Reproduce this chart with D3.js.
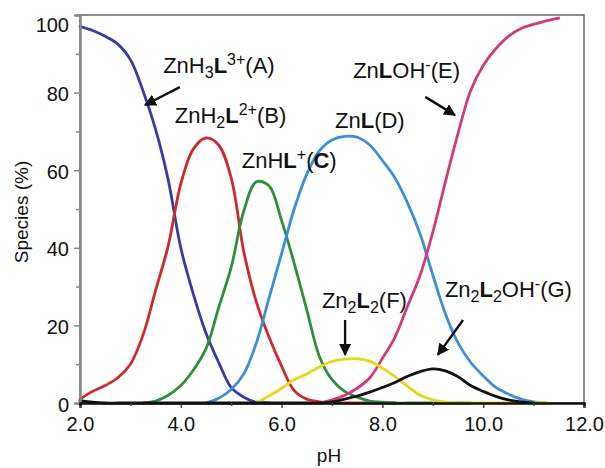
<!DOCTYPE html>
<html>
<head>
<meta charset="utf-8">
<script src="https://cdn.jsdelivr.net/npm/d3@7"></script>
<style>
  body { margin: 0; background: #fff; }
  text { font-family: "Liberation Sans", Arial, Helvetica, sans-serif; fill: #111; }
</style>
</head>
<body>
<svg width="605" height="468"></svg>
<script>
// pH grid the curves were read on
const PH = [2.0, 2.25, 2.5, 2.75, 3.0, 3.25, 3.5, 3.75, 4.0, 4.25,
            4.5, 4.75, 5.0, 5.25, 5.5, 5.75, 6.0, 6.25, 6.5, 6.75,
            7.0, 7.25, 7.5, 7.75, 8.0, 8.25, 8.5, 8.75, 9.0, 9.25,
            9.5, 9.75, 10.0, 10.25, 10.5, 10.75, 11.0, 11.25, 11.5, 11.75, 12.0];

const _ = null;
// species (%) per pH, null = not drawn
const ZNH3L = [97, 96, 94.5, 92.5, 88.5, 80.5, 70.5, 57.5, 40, 28,
               18, 10.5, 4, 1.5, 0.2, 0, _, _, _, _,
               _, _, _, _, _, _, _, _, _, _,
               _, _, _, _, _, _, _, _, _, _, _];
const ZNH2L = [1, 3, 4.5, 6.5, 10, 17.5, 29, 40.5, 56.5, 65.5,
               68.3, 66.5, 58, 39, 26, 17, 9.5, 3.2, 1, 0.3,
               0, 0, 0, 0, 0, 0, _, _, _, _,
               _, _, _, _, _, _, _, _, _, _, _];
const ZNHL  = [_, _, _, _, _, 0, 0.5, 2, 4.5, 8.5,
               14, 24.5, 35, 49.5, 57, 56, 47, 36, 24, 12,
               6, 3, 1.5, 0.5, 0.2, 0, 0, 0, 0, 0,
               0, 0, _, _, _, _, _, _, _, _, _];
const ZNL   = [_, _, _, _, _, _, _, _, _, _,
               0, 1.2, 3.5, 7.5, 15.5, 27, 38.5, 50, 59, 65,
               67.8, 68.7, 68.5, 66.5, 62.5, 58, 51.5, 43.5, 33, 23,
               15.5, 10.5, 7, 4, 2.3, 1, 0.3, 0, _, _, _];
const ZNLOH = [_, _, _, _, _, _, _, _, _, _,
               _, _, _, _, _, _, _, _, _, 0,
               0.8, 2, 3.8, 6.5, 11.5, 17, 25, 33, 44, 57,
               69.5, 80.5, 87, 91.3, 94.5, 96.5, 97.6, 98.5, 99.2, _, _];
const ZN2L2 = [_, _, _, _, _, _, _, _, _, _,
               _, _, _, _, 0, 1.8, 3.8, 6, 7.5, 9.3,
               10.7, 11.3, 11.4, 10.8, 9, 6.8, 4.3, 2, 0.8, 0.2,
               0, 0, 0, 0, 0, 0, 0, 0, _, _, _];
const ZN2L2OH = [0.6, 0.2, 0, 0, 0, 0, 0, 0, 0, 0,
                 0, 0, 0, 0, 0, 0, 0, 0, 0, 0,
                 0.3, 1, 1.8, 2.8, 4, 5.3, 6.9, 8.1, 8.8, 8.3,
                 6.8, 4.5, 3, 1.7, 0.8, 0.3, 0, _, _, _, _];

const SERIES = [
  { values: ZNH3L,   color: '#3a3aa6' },
  { values: ZNH2L,   color: '#cc2a2e' },
  { values: ZNHL,    color: '#2f8f3a' },
  { values: ZNL,     color: '#3c8fd6' },
  { values: ZNLOH,   color: '#d23a78' },
  { values: ZN2L2,   color: '#e6d81e' },
  { values: ZN2L2OH, color: '#111111' },
];

const X_TICKS = [2, 4, 6, 8, 10, 12];
const X_MINOR = [3, 5, 7, 9, 11];
const Y_TICKS = [0, 20, 40, 60, 80, 100];
const Y_MINOR = [10, 30, 50, 70, 90];

// label text: [text, kind]  kind: n normal, b bold, sub, sup
const LABELS = [
  { at: [3.65, 85.0], parts: [['ZnH', 'n'], ['3', 'sub'], ['L', 'b'], ['3+', 'sup'], ['(A)', 'n']] },
  { at: [3.88, 72.2], parts: [['ZnH', 'n'], ['2', 'sub'], ['L', 'b'], ['2+', 'sup'], ['(B)', 'n']] },
  { at: [5.21, 60.6], parts: [['ZnH', 'n'], ['L', 'b'], ['+', 'sup'], ['(', 'n'], ['C', 'b'], [')', 'n']] },
  { at: [7.06, 70.9], parts: [['Zn', 'n'], ['L', 'b'], ['(D)', 'n']] },
  { at: [7.42, 83.8], parts: [['Zn', 'n'], ['L', 'b'], ['OH', 'n'], ['-', 'sup'], ['(E)', 'n']] },
  { at: [6.80, 24.5], parts: [['Zn', 'n'], ['2', 'sub'], ['L', 'b'], ['2', 'sub'], ['(F)', 'n']] },
  { at: [9.24, 27.3], parts: [['Zn', 'n'], ['2', 'sub'], ['L', 'b'], ['2', 'sub'], ['OH', 'n'], ['-', 'sup'], ['(G)', 'n']] },
];

// arrows: tail -> head, in data units
const ARROWS = [
  [[3.98, 81.4], [3.29, 76.8]],
  [[8.85, 78.9], [9.44, 74.2]],
  [[7.26, 21.4], [7.26, 12.4]],
  [[9.60, 21.4], [9.10, 12.4]],
];

const svg = d3.select('svg');
const plotLeft = 80, plotRight = 584, plotTop = 15, plotBottom = 403;

const x = d3.scaleLinear().domain([2, 12]).range([plotLeft, plotRight]);
const y = d3.scaleLinear().domain([0, 100]).range([plotBottom, plotTop]);

// frame
svg.append('rect')
  .attr('x', plotLeft).attr('y', plotTop)
  .attr('width', plotRight - plotLeft).attr('height', plotBottom - plotTop)
  .attr('fill', 'none').attr('stroke', '#666').attr('stroke-width', 1.5);

// curves
const line = d3.line()
  .defined(d => d[1] != null)
  .x(d => x(d[0]))
  .y(d => y(d[1]))
  .curve(d3.curveCatmullRom.alpha(0.5));

svg.append('g').selectAll('path')
  .data(SERIES)
  .enter()
  .append('path')
  .attr('d', s => line(PH.map((p, i) => [p, s.values[i]])))
  .attr('fill', 'none')
  .attr('stroke', s => s.color)
  .attr('stroke-width', 2.8)
  .attr('stroke-linejoin', 'round')
  .attr('stroke-linecap', 'round');

// y axis
const yAxis = svg.append('g')
  .attr('transform', `translate(${plotLeft},0)`)
  .call(d3.axisLeft(y).tickValues(Y_TICKS).tickSize(6).tickPadding(5));
yAxis.append('g')
  .call(d3.axisLeft(y).tickValues(Y_MINOR).tickSize(4).tickFormat(''));
yAxis.selectAll('.domain').attr('stroke', '#888').attr('stroke-width', 2);
yAxis.selectAll('line').attr('stroke', '#888').attr('stroke-width', 1.5);
yAxis.selectAll('text')
  .attr('font-size', 20)
  .attr('fill', '#111')
  .attr('dy', d => d === 100 ? '0.8em' : '0.4em');

// x axis
const xAxis = svg.append('g')
  .attr('transform', `translate(0,${plotBottom})`)
  .call(d3.axisBottom(x).tickValues(X_TICKS).tickSize(5).tickPadding(9).tickFormat(d3.format('.1f')));
xAxis.append('g')
  .call(d3.axisBottom(x).tickValues(X_MINOR).tickSize(3).tickFormat(''));
xAxis.selectAll('.domain').attr('stroke', '#111').attr('stroke-width', 2.2);
xAxis.selectAll('line').attr('stroke', '#444').attr('stroke-width', 1.5);
xAxis.selectAll('text').attr('font-size', 20).attr('fill', '#111');

// axis titles
svg.append('text')
  .attr('transform', 'translate(28,212) rotate(-90)')
  .attr('text-anchor', 'middle')
  .attr('font-size', 19)
  .text('Species (%)');

svg.append('text')
  .attr('x', 329).attr('y', 462)
  .attr('text-anchor', 'middle')
  .attr('font-size', 19)
  .text('pH');

// species labels
const SHIFT = { n: 0, b: 0, sub: 5, sup: -8 };
LABELS.forEach(lab => {
  const t = svg.append('text')
    .attr('x', x(lab.at[0]))
    .attr('y', y(lab.at[1]))
    .attr('font-size', 22);
  let prev = 0;
  lab.parts.forEach(([str, kind]) => {
    const off = SHIFT[kind];
    t.append('tspan')
      .attr('dy', off - prev)
      .attr('font-size', kind === 'sub' || kind === 'sup' ? 16 : 22)
      .attr('font-weight', kind === 'b' ? 'bold' : 'normal')
      .text(str);
    prev = off;
  });
});

// arrows
svg.append('defs').append('marker')
  .attr('id', 'head')
  .attr('viewBox', '0 0 10 10')
  .attr('refX', 9).attr('refY', 5)
  .attr('markerWidth', 5).attr('markerHeight', 5)
  .attr('markerUnits', 'strokeWidth')
  .attr('orient', 'auto')
  .append('path')
  .attr('d', 'M0,0 L10,5 L0,10 Z')
  .attr('fill', '#111');

svg.append('g').selectAll('line')
  .data(ARROWS)
  .enter()
  .append('line')
  .attr('x1', a => x(a[0][0])).attr('y1', a => y(a[0][1]))
  .attr('x2', a => x(a[1][0])).attr('y2', a => y(a[1][1]))
  .attr('stroke', '#111')
  .attr('stroke-width', 2.4)
  .attr('marker-end', 'url(#head)');
</script>
</body>
</html>
